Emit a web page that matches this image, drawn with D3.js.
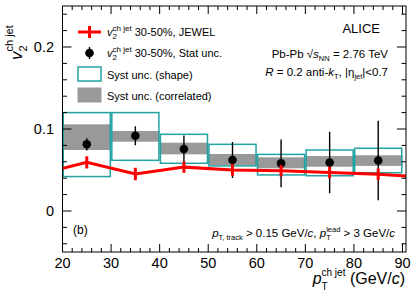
<!DOCTYPE html>
<html>
<head>
<meta charset="UTF-8">
<script src="https://d3js.org/d3.v7.min.js"></script>
<style>
  body { margin: 0; background: #fff; }
  svg { display: block; font-family: "Liberation Sans", Arial, sans-serif; }
</style>
</head>
<body>
<svg width="415" height="300"></svg>
<script>
  // data
  const binLow = [20, 30, 40, 50, 60, 70, 80];
  const binHigh = [30, 40, 50, 60, 70, 80, 90];
  const ptCenters = [25, 35, 45, 55, 65, 75, 85];
  const v2 = [0.0813, 0.0918, 0.0756, 0.0622, 0.0581, 0.0592, 0.0615];
  const statErr = [0.0075, 0.0115, 0.0165, 0.022, 0.029, 0.0375, 0.0485];
  const shapeLow = [0.042, 0.0618, 0.0582, 0.055, 0.044, 0.043, 0.0467];
  const shapeHigh = [0.120, 0.120, 0.0935, 0.0813, 0.069, 0.0744, 0.0765];
  const corrLow = [0.0744, 0.0845, 0.0691, 0.056, 0.052, 0.054, 0.055];
  const corrHigh = [0.1057, 0.0976, 0.0833, 0.0695, 0.0655, 0.067, 0.068];
  // JEWEL curve, outer points lie outside the frame and get clipped
  const jewelPt = [15, 25, 35, 45, 55, 65, 75, 85, 95];
  const jewelV2 = [0.0446, 0.0594, 0.0451, 0.0535, 0.050, 0.049, 0.047, 0.0447, 0.041];
  const jewelErr = [0, 0.0075, 0.0075, 0.007, 0.007, 0.007, 0.007, 0.007, 0];
  const xTicks = [20, 30, 40, 50, 60, 70, 80, 90];
  const yTicks = [0, 0.1, 0.2];

  const svg = d3.select("svg");
  const fL = 62.5, fR = 406, fT = 6, fB = 252;
  const x = d3.scaleLinear().domain([20, 90]).range([fL, 402.5]);
  const y = d3.scaleLinear().domain([-0.05, 0.25]).range([fB, fT]);

  const teal = "#22a3a3", gray = "#999999", red = "#ff0000";

  svg.append("clipPath").attr("id", "clip")
    .append("rect").attr("x", fL).attr("y", fT)
    .attr("width", fR - fL).attr("height", fB - fT);

  const plot = svg.append("g").attr("clip-path", "url(#clip)");

  // correlated syst
  plot.selectAll(".corr").data(ptCenters).join("rect")
    .attr("x", (d, i) => x(binLow[i]))
    .attr("width", (d, i) => x(binHigh[i]) - x(binLow[i]))
    .attr("y", (d, i) => y(corrHigh[i]))
    .attr("height", (d, i) => y(corrLow[i]) - y(corrHigh[i]))
    .attr("fill", gray);

  // shape syst
  plot.selectAll(".shape").data(ptCenters).join("rect")
    .attr("x", (d, i) => x(binLow[i]) + 0.75)
    .attr("width", (d, i) => x(binHigh[i]) - x(binLow[i]) - 1.5)
    .attr("y", (d, i) => y(shapeHigh[i]))
    .attr("height", (d, i) => y(shapeLow[i]) - y(shapeHigh[i]))
    .attr("fill", "none").attr("stroke", teal).attr("stroke-width", 1.5);

  // data points
  plot.selectAll(".err").data(ptCenters).join("line")
    .attr("x1", d => x(d)).attr("x2", d => x(d))
    .attr("y1", (d, i) => y(v2[i] + statErr[i]))
    .attr("y2", (d, i) => y(v2[i] - statErr[i]))
    .attr("stroke", "#000").attr("stroke-width", 1.4);
  plot.selectAll(".dot").data(ptCenters).join("circle")
    .attr("cx", d => x(d)).attr("cy", (d, i) => y(v2[i]))
    .attr("r", 4.3).attr("fill", "#000");

  // JEWEL
  plot.append("path")
    .datum(jewelPt.map((d, i) => [d, jewelV2[i]]))
    .attr("d", d3.line().x(d => x(d[0])).y(d => y(d[1])))
    .attr("fill", "none").attr("stroke", red).attr("stroke-width", 3);
  plot.selectAll(".jerr").data(jewelPt.filter((d, i) => jewelErr[i] > 0)).join("line")
    .attr("x1", d => x(d)).attr("x2", d => x(d))
    .attr("y1", d => { const i = jewelPt.indexOf(d); return y(jewelV2[i] + jewelErr[i]); })
    .attr("y2", d => { const i = jewelPt.indexOf(d); return y(jewelV2[i] - jewelErr[i]); })
    .attr("stroke", red).attr("stroke-width", 3);

  // frame and ticks
  svg.append("rect").attr("x", fL).attr("y", fT)
    .attr("width", fR - fL).attr("height", fB - fT)
    .attr("fill", "none").attr("stroke", "#000").attr("stroke-width", 1);

  const ticks = svg.append("g").attr("stroke", "#000").attr("stroke-width", 1);
  const xMinor = d3.range(20, 91, 2);
  xMinor.forEach(v => {
    const len = v % 10 === 0 ? 8 : 4;
    ticks.append("line").attr("x1", x(v)).attr("x2", x(v)).attr("y1", fB).attr("y2", fB - len);
    ticks.append("line").attr("x1", x(v)).attr("x2", x(v)).attr("y1", fT).attr("y2", fT + len);
  });
  const yMinor = d3.range(-0.04, 0.2401, 0.02);
  yMinor.forEach(v => {
    const major = Math.abs(v / 0.1 - Math.round(v / 0.1)) < 1e-6;
    const len = major ? 9 : 4.5;
    ticks.append("line").attr("x1", fL).attr("x2", fL + len).attr("y1", y(v)).attr("y2", y(v));
    ticks.append("line").attr("x1", fR).attr("x2", fR - len).attr("y1", y(v)).attr("y2", y(v));
  });

  svg.append("g").selectAll("text").data(xTicks).join("text")
    .attr("x", d => x(d)).attr("y", 268).attr("text-anchor", "middle")
    .attr("font-size", 14.5).text(d => d);
  svg.append("g").selectAll("text").data(yTicks).join("text")
    .attr("x", 54).attr("y", d => y(d) + 5).attr("text-anchor", "end")
    .attr("font-size", 14.5).text(d => d === 0 ? "0" : d.toFixed(1));

  // rich text helper: parts [text, size, dy, italic, stack]
  function rich(g, parts) {
    let cx = 0, prevX = 0, prevW = 0;
    parts.forEach(p => {
      const [t, size, dy, it, stack] = p;
      const px = stack ? prevX : cx;
      const el = g.append("text").attr("x", px).attr("y", dy || 0)
        .attr("font-size", size).attr("font-style", it ? "italic" : null)
        .style("white-space", "pre").text(t);
      const w = el.node().getComputedTextLength();
      if (stack) { cx = Math.max(prevX + prevW, px + w); }
      else { prevX = px; prevW = w; cx = px + w; }
    });
    return cx;
  }
  function richAt(tx, ty, parts, anchorEnd) {
    const g = svg.append("g");
    const w = rich(g, parts);
    g.attr("transform", `translate(${anchorEnd ? tx - w : tx},${ty})`);
    return g;
  }

  // axis titles
  const yt = svg.append("g");
  rich(yt, [["v", 17, 0, true], ["2", 11, 5, false], ["ch jet", 11, -9, false, true]]);
  yt.attr("transform", "translate(22,60) rotate(-90)");

  richAt(405, 284, [["p", 16, 0, true], ["T", 10, 6, false], ["ch jet", 10, -8, false, true],
    [" (GeV/", 16, 0, false], ["c", 16, 0, true], [")", 16, 0, false]], true);

  // legend
  const lg = svg.append("g");
  lg.append("line").attr("x1", 78).attr("x2", 101).attr("y1", 32).attr("y2", 32)
    .attr("stroke", red).attr("stroke-width", 3);
  lg.append("line").attr("x1", 89.5).attr("x2", 89.5).attr("y1", 26).attr("y2", 38)
    .attr("stroke", red).attr("stroke-width", 3);
  lg.append("line").attr("x1", 89.5).attr("x2", 89.5).attr("y1", 47).attr("y2", 59)
    .attr("stroke", "#000").attr("stroke-width", 1.4);
  lg.append("circle").attr("cx", 89.5).attr("cy", 53).attr("r", 4.3).attr("fill", "#000");
  lg.append("rect").attr("x", 78).attr("y", 67).attr("width", 23).attr("height", 14)
    .attr("fill", "none").attr("stroke", teal).attr("stroke-width", 1.5);
  lg.append("rect").attr("x", 77.5).attr("y", 87.5).attr("width", 24).attr("height", 15)
    .attr("fill", gray);

  richAt(107, 36, [["v", 11, 0, true], ["2", 8, 3, false], ["ch jet", 8, -5, false, true],
    [" 30-50%, JEWEL", 11, 0, false]]);
  richAt(107, 57, [["v", 11, 0, true], ["2", 8, 3, false], ["ch jet", 8, -5, false, true],
    [" 30-50%, Stat unc.", 11, 0, false]]);
  richAt(107, 79, [["Syst unc. (shape)", 11, 0, false]]);
  richAt(107, 100, [["Syst unc. (correlated)", 11, 0, false]]);

  // annotations
  richAt(380, 33, [["ALICE", 13, 0, false]], true);
  richAt(388, 58, [["Pb-Pb ", 11.5, 0, false], ["\u221A", 11.5, 0, false], ["s", 11.5, 0, true],
    ["NN", 7.5, 3, false], [" = 2.76 TeV", 11.5, 0, false]], true);
  richAt(388, 76, [["R", 11.5, 0, true], [" = 0.2 anti-", 11.5, 0, false], ["k", 11.5, 0, true],
    ["T", 7.5, 3, false], [", |\u03B7", 11.5, 0, false], ["jet", 7.5, 3, false], ["|<0.7", 11.5, 0, false]], true);
  richAt(73, 234, [["(b)", 12, 0, false]]);
  richAt(395, 237, [["p", 11.5, 0, true], ["T, track", 7.5, 3, false], [" > 0.15 GeV/", 11.5, 0, false],
    ["c", 11.5, 0, true], [", ", 11.5, 0, false], ["p", 11.5, 0, true], ["T", 7.5, 3, false],
    ["lead", 7.5, -5, false, true], [" > 3 GeV/", 11.5, 0, false], ["c", 11.5, 0, true]], true);
</script>
</body>
</html>
